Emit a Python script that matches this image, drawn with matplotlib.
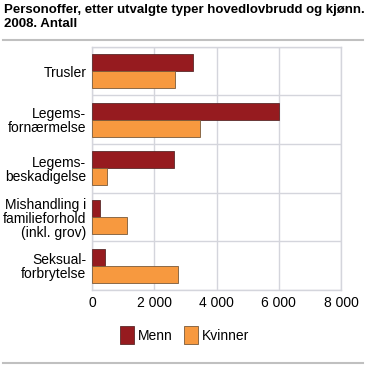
import matplotlib
matplotlib.use("Agg")
import matplotlib.pyplot as plt
import numpy as np
from matplotlib.lines import Line2D

plt.rcParams['font.family'] = ['Liberation Sans', 'DejaVu Sans']

# data
categories = ["Trusler", "Legems-\nfornærmelse", "Legems-\nbeskadigelse",
              "Mishandling i\nfamilieforhold\n(inkl. grov)", "Seksual-\nforbrytelse"]
menn = [3250, 6000, 2640, 250, 420]
kvinner = [2660, 3460, 490, 1120, 2750]
xticks = [0, 2000, 4000, 6000, 8000]
xticklabels = ["0", "2 000", "4 000", "6 000", "8 000"]

red = "#961b1f"
orange = "#f7993f"
grid_col = "#d4d5dc"

fig = plt.figure(figsize=(3.69, 3.69), dpi=100)
ax = fig.add_axes([92/369, 1 - 290/369, 249/369, (290 - 46.7)/369])

y = np.arange(len(categories))
h = 0.35
ax.barh(y - h/2, menn, height=h, color=red, edgecolor="#5a2a2a", linewidth=0.6,
        label="Menn", zorder=3)
ax.barh(y + h/2, kvinner, height=h, color=orange, edgecolor="#7a5a3a", linewidth=0.6,
        label="Kvinner", zorder=3)

ax.set_ylim(len(categories) - 0.5, -0.5)
ax.set_xlim(0, 8000)
ax.set_yticks(y)
ax.set_yticklabels(categories, fontsize=10, linespacing=1.0)
ax.set_xticks(xticks)
ax.set_xticklabels(xticklabels, fontsize=10)
ax.set_yticks(np.arange(len(categories) + 1) - 0.5, minor=True)
ax.tick_params(axis="both", which="both", length=0, pad=4)
ax.grid(axis="x", color=grid_col, linewidth=1, zorder=0)
ax.grid(axis="y", which="minor", color=grid_col, linewidth=1, zorder=0)
ax.grid(axis="y", which="major", visible=False)
for s in ax.spines.values():
    s.set_color(grid_col)
    s.set_linewidth(1)

# title
fig.text(4/369, 1 - 4/369, "Personoffer, etter utvalgte typer hovedlovbrudd og kjønn.\n2008. Antall",
         fontsize=9.55, fontweight="bold", va="top", ha="left", linespacing=1.2)

# separator lines
fig.add_artist(Line2D([3/369, 363/369], [1 - 40/369, 1 - 40/369], color="#c0c0c0", linewidth=1.5))
fig.add_artist(Line2D([3/369, 363/369], [1 - 363/369, 1 - 363/369], color="#c0c0c0", linewidth=1.5))

fig.legend(loc="center", bbox_to_anchor=(0.5, 1 - 335/369), ncol=2, frameon=False,
           fontsize=10, handlelength=1.0, handleheight=1.6, handletextpad=0.3,
           columnspacing=0.8)

fig.savefig("out.png", dpi=100)
